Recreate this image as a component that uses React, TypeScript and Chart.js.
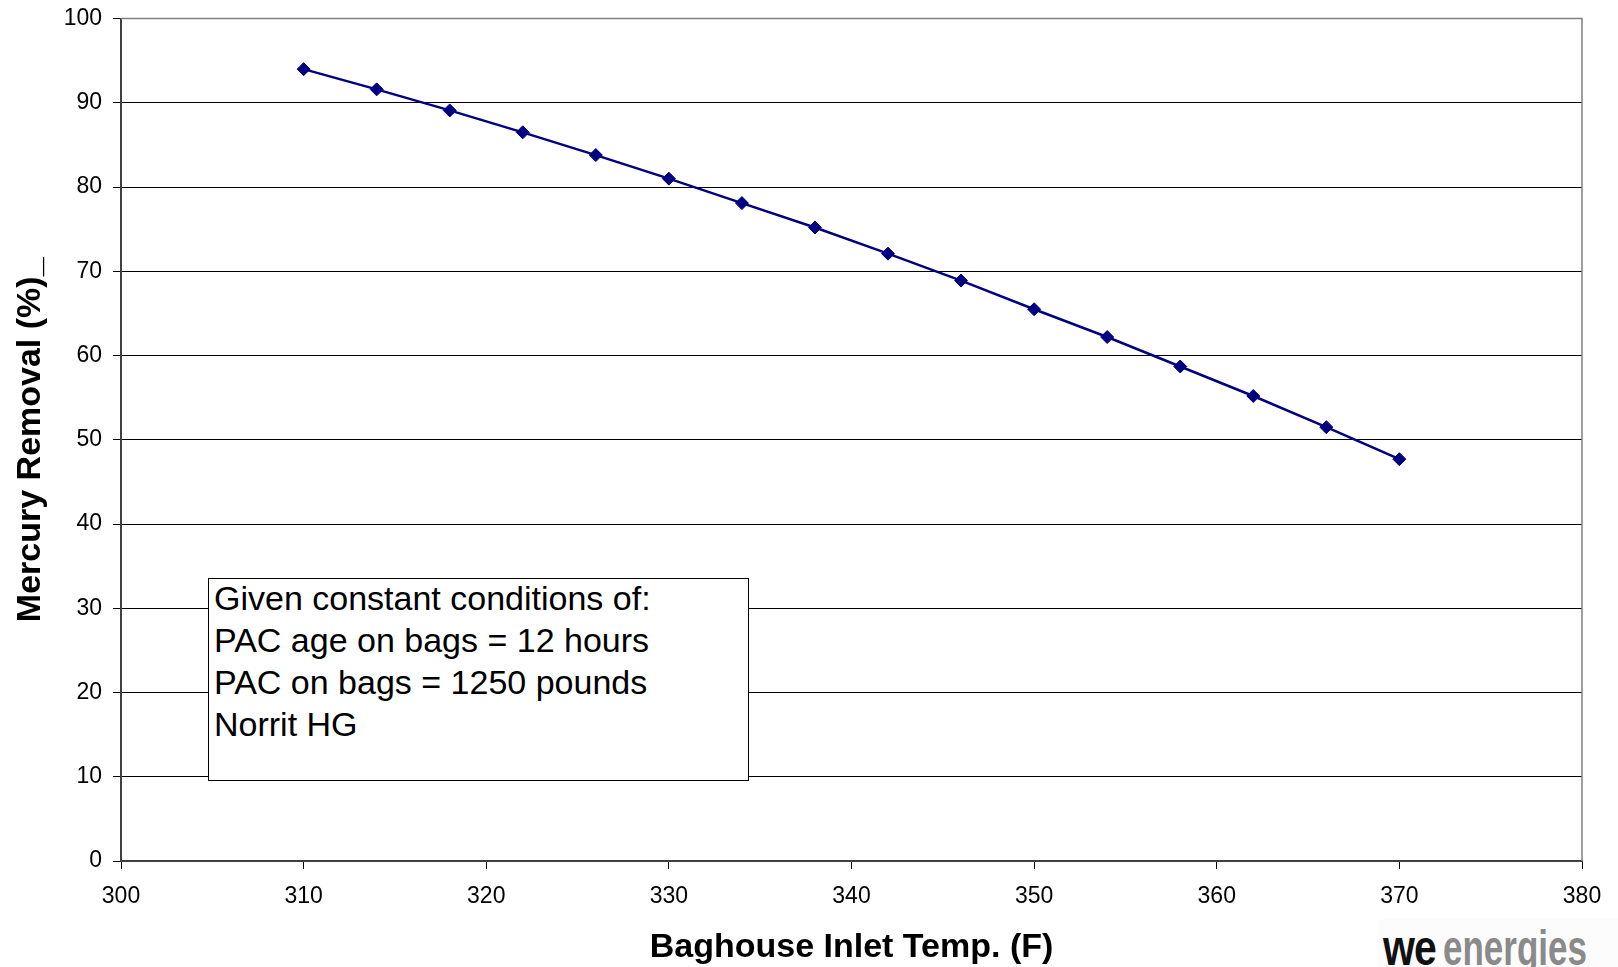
import React, { useEffect, useRef } from "react";
import { Chart, registerables } from "chart.js";

Chart.register(...registerables);

// ---- Data ----
const inletTemps = [310, 314, 318, 322, 326, 330, 334, 338, 342, 346, 350, 354, 358, 362, 366, 370];
const mercuryRemoval = [94.0, 91.6, 89.1, 86.5, 83.8, 81.0, 78.1, 75.2, 72.1, 68.9, 65.5, 62.2, 58.7, 55.2, 51.5, 47.7];
const xRange = [300, 380];
const yRange = [0, 100];
const xTitle = "Baghouse Inlet Temp. (F)";
const yTitle = "Mercury Removal (%)_";
const noteLines = [
  "Given constant conditions of:",
  "PAC age on bags = 12 hours",
  "PAC on bags = 1250 pounds",
  "Norrit HG",
];

const FONT = 'Arial, "Liberation Sans", sans-serif';

const framePlugin = {
  id: "frame",
  beforeDatasetsDraw(chart: any) {
    const { ctx, chartArea } = chart;
    const { left, top, right, bottom } = chartArea;
    ctx.save();
    ctx.strokeStyle = "#808080";
    ctx.lineWidth = 1.5;
    ctx.beginPath();
    ctx.moveTo(left, top);
    ctx.lineTo(right, top);
    ctx.lineTo(right, bottom);
    ctx.stroke();
    ctx.restore();
  },
};

export default function App() {
  const canvasRef = useRef<HTMLCanvasElement | null>(null);

  useEffect(() => {
    document.body.style.margin = "0";
    const canvas = canvasRef.current;
    if (!canvas) return;
    const chart = new Chart(canvas, {
      type: "line",
      data: {
        datasets: [
          {
            data: inletTemps.map((t, i) => ({ x: t, y: mercuryRemoval[i] })),
            borderColor: "#000080",
            backgroundColor: "#000080",
            borderWidth: 2.5,
            pointStyle: "rectRot",
            pointRadius: 6.5,
            pointBorderWidth: 1,
            pointBorderColor: "#000080",
            pointBackgroundColor: "#000080",
            tension: 0,
            fill: false,
          },
        ],
      },
      options: {
        responsive: false,
        animation: false,
        devicePixelRatio: 1,
        layout: { padding: { top: 18.6, right: 36, left: 0, bottom: 0 } },
        plugins: {
          legend: { display: false },
          tooltip: { enabled: false },
        },
        scales: {
          x: {
            type: "linear",
            min: xRange[0],
            max: xRange[1],
            afterFit: (scale: any) => {
              scale.height = 106;
              scale.paddingLeft = 0;
              scale.paddingRight = 0;
            },
            ticks: {
              stepSize: 10,
              color: "#000",
              padding: 14,
              maxRotation: 0,
              font: { family: FONT, size: 23 },
            },
            grid: {
              drawOnChartArea: false,
              drawTicks: true,
              tickLength: 8,
              tickColor: "#000",
              tickWidth: 1,
            },
            border: { display: true, color: "#404040", width: 2 },
            title: {
              display: true,
              text: xTitle,
              color: "#000",
              font: { family: FONT, size: 34, weight: "bold" },
              padding: { top: 0, bottom: -1 },
            },
          },
          y: {
            type: "linear",
            min: yRange[0],
            max: yRange[1],
            afterFit: (scale: any) => {
              scale.width = 121;
              scale.paddingTop = 0;
              scale.paddingBottom = 0;
            },
            ticks: {
              stepSize: 10,
              color: "#000",
              padding: 11,
              font: { family: FONT, size: 23 },
            },
            grid: {
              color: (c: any) =>
                c.tick && (c.tick.value === yRange[0] || c.tick.value === yRange[1])
                  ? "rgba(0,0,0,0)"
                  : "#000",
              lineWidth: 1,
              drawTicks: true,
              tickLength: 8,
              tickColor: "#000",
              tickWidth: 1,
            },
            border: { display: true, color: "#404040", width: 2 },
            title: {
              display: true,
              text: yTitle,
              color: "#000",
              font: { family: FONT, size: 34, weight: "bold" },
              padding: { top: 10, bottom: 0 },
            },
          },
        },
      },
      plugins: [framePlugin],
    } as any);
    return () => chart.destroy();
  }, []);

  return (
    <div
      style={{
        position: "fixed",
        left: 0,
        top: 0,
        width: 1618,
        height: 967,
        overflow: "hidden",
        background: "#fff",
      }}
    >
      <canvas
        ref={canvasRef}
        width={1618}
        height={967}
        style={{ display: "block", width: 1618, height: 967 }}
      />
      <div
        style={{
          position: "absolute",
          left: 208,
          top: 578,
          width: 534,
          height: 201,
          border: "1.5px solid #000",
          background: "#fff",
          fontFamily: FONT,
          fontSize: 34,
          lineHeight: "42px",
          color: "#000",
          paddingLeft: 5,
          boxSizing: "content-box",
          whiteSpace: "nowrap",
          overflow: "hidden",
        }}
      >
        <div style={{ marginTop: -2 }}>
          {noteLines.map((l, i) => (
            <div key={i}>{l}</div>
          ))}
        </div>
      </div>
      <div
        style={{
          position: "absolute",
          left: 1378,
          top: 918,
          width: 240,
          height: 49,
          background: "#fcfcfc",
        }}
      />
      <div
        style={{
          position: "absolute",
          left: 1383,
          top: 923,
          fontFamily: FONT,
          fontWeight: "bold",
          fontSize: 50,
          lineHeight: "50px",
          whiteSpace: "nowrap",
          color: "#111",
          transform: "scaleX(0.82)",
          transformOrigin: "left top",
          letterSpacing: -1,
        }}
      >
        we
      </div>
      <div
        style={{
          position: "absolute",
          left: 1443,
          top: 923,
          fontFamily: FONT,
          fontWeight: "bold",
          fontSize: 50,
          lineHeight: "50px",
          whiteSpace: "nowrap",
          color: "#8a8a8a",
          transform: "scaleX(0.7)",
          transformOrigin: "left top",
        }}
      >
        energies
      </div>
    </div>
  );
}
